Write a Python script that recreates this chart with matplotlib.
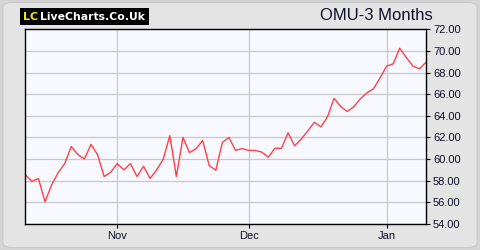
import matplotlib.pyplot as plt
from matplotlib.patches import FancyBboxPatch, Rectangle

# OMU closing prices, one per trading day
prices = [58.55, 57.95, 58.2, 56.05, 57.6, 58.75, 59.58, 61.17, 60.41, 60.01,
          61.36, 60.41, 58.39, 58.79, 59.58, 59.0, 59.58, 58.39, 59.34, 58.21,
          59.0, 60.0, 62.18, 58.39, 62.0, 60.6, 60.96, 61.72, 59.4, 58.97,
          61.54, 62.0, 60.8, 60.98, 60.8, 60.8, 60.65, 60.18, 61.0, 61.0,
          62.43, 61.23, 61.85, 62.6, 63.4, 62.98, 63.9, 65.62, 64.87, 64.4,
          64.83, 65.57, 66.12, 66.5, 67.5, 68.6, 68.8, 70.25, 69.4, 68.6,
          68.35, 68.95]
month_pos = [14, 34, 55]
month_labels = ['Nov', 'Dec', 'Jan']
y_ticks = [54, 56, 58, 60, 62, 64, 66, 68, 70, 72]

fig = plt.figure(figsize=(4.8, 2.5), dpi=100)
fig.patch.set_facecolor('#d4d4d4')
panel = FancyBboxPatch((0.006, 0.01), 0.988, 0.98, boxstyle='round,pad=0,rounding_size=0.02',
                       transform=fig.transFigure, facecolor='#e4e4e4', edgecolor='#c8c8c8',
                       linewidth=0.8, zorder=-10)
fig.patches.append(panel)

ax = fig.add_axes([0.0527, 0.104, 0.8348, 0.7788])
ax.set_facecolor('#f8f9ff')
ax.plot(range(len(prices)), prices, color='#ff4048', linewidth=1.0)

ax.set_xlim(0, len(prices) - 1)
ax.set_ylim(54, 72)
ax.set_xticks(month_pos)
ax.set_xticklabels(month_labels)
ax.set_yticks(y_ticks)
ax.set_yticklabels([f'{v:.2f}' for v in y_ticks])
ax.yaxis.tick_right()
ax.tick_params(axis='both', labelsize=8, colors='black', labelcolor='#10102a',
               length=3, width=0.8, direction='out', pad=2)
ax.grid(True, color='#c8c8c8', linewidth=0.9)
ax.set_axisbelow(True)
for s in ax.spines.values():
    s.set_color('black')
    s.set_linewidth(1.0)
for lab in ax.get_xticklabels() + ax.get_yticklabels():
    lab.set_family('Liberation Sans')

# logo
fig.patches.append(Rectangle((20 / 480, 1 - 24.7 / 250), 128.5 / 480, 16.4 / 250,
                             transform=fig.transFigure, facecolor='black', edgecolor='none',
                             zorder=-5))
fig.text(22.5 / 480, 1 - 16.5 / 250, 'LC', color='#f0e800', fontsize=8, fontweight='bold',
         family='DejaVu Sans', va='center', ha='left')
fig.text(40 / 480, 1 - 16.5 / 250, 'LiveCharts.Co.Uk', color='white', fontsize=7.8,
         fontweight='bold', family='DejaVu Sans', va='center', ha='left')

fig.text(433 / 480, 1 - 16 / 250, 'OMU-3 Months', color='#10102a', fontsize=12,
         family='Liberation Sans', va='center', ha='right')

fig.savefig('out.png', dpi=100, facecolor=fig.get_facecolor())
